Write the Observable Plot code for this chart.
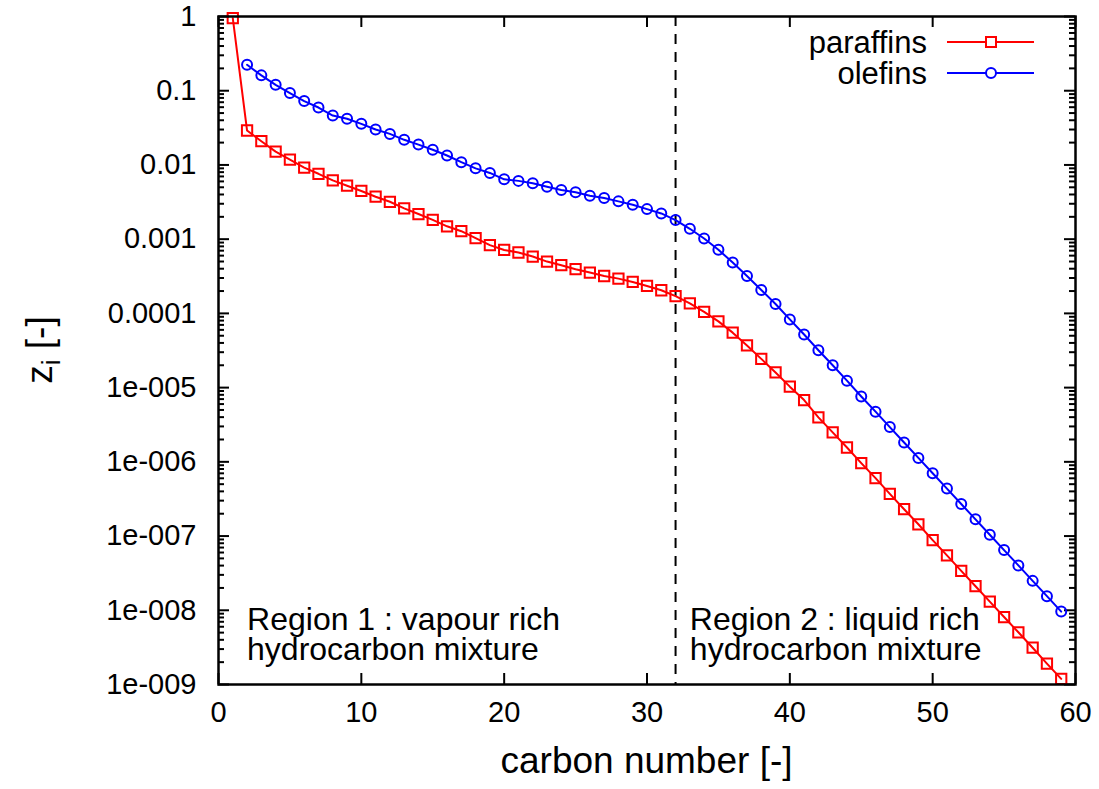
<!DOCTYPE html>
<html><head><meta charset="utf-8">
<script src="https://cdn.jsdelivr.net/npm/d3@7"></script>
<script src="https://cdn.jsdelivr.net/npm/@observablehq/plot@0.6"></script>
<style>
body{margin:0;background:#fff;}
#chart{position:relative;width:1099px;height:789px;}
</style>
</head><body><div id="chart"></div>
<script>
// ---- data ----
const carbonParaffins = [1,2,3,4,5,6,7,8,9,10,11,12,13,14,15,16,17,18,19,20,21,22,23,24,25,26,27,28,29,30,31,32,33,34,35,36,37,38,39,40,41,42,43,44,45,46,47,48,49,50,51,52,53,54,55,56,57,58,59];
const paraffins = [0.95,2.91e-2,2.09e-2,1.51e-2,1.18e-2,9.2e-3,7.6e-3,6.2e-3,5.25e-3,4.46e-3,3.73e-3,3.19e-3,2.60e-3,2.18e-3,1.82e-3,1.49e-3,1.28e-3,1.03e-3,8.3e-4,7.16e-4,6.61e-4,5.83e-4,4.99e-4,4.46e-4,3.94e-4,3.55e-4,3.19e-4,2.94e-4,2.65e-4,2.34e-4,2.05e-4,1.71e-4,1.36e-4,1.05e-4,7.8e-5,5.5e-5,3.7e-5,2.44e-5,1.6e-5,1.03e-5,6.8e-6,3.97e-6,2.49e-6,1.56e-6,9.6e-7,6.03e-7,3.70e-7,2.30e-7,1.44e-7,8.83e-8,5.48e-8,3.40e-8,2.11e-8,1.31e-8,8.11e-9,5.05e-9,3.13e-9,1.91e-9,1.19e-9];
const carbonOlefins = [2,3,4,5,6,7,8,9,10,11,12,13,14,15,16,17,18,19,20,21,22,23,24,25,26,27,28,29,30,31,32,33,34,35,36,37,38,39,40,41,42,43,44,45,46,47,48,49,50,51,52,53,54,55,56,57,58,59];
const olefins = [0.224,0.161,0.120,9.31e-2,7.26e-2,5.94e-2,4.63e-2,4.19e-2,3.58e-2,3.00e-2,2.62e-2,2.18e-2,1.88e-2,1.60e-2,1.34e-2,1.09e-2,9.0e-3,7.8e-3,6.4e-3,6.1e-3,5.65e-3,5.09e-3,4.59e-3,4.28e-3,3.85e-3,3.58e-3,3.23e-3,2.91e-3,2.54e-3,2.22e-3,1.81e-3,1.38e-3,1.02e-3,7.2e-4,4.84e-4,3.19e-4,2.07e-4,1.34e-4,8.3e-5,5.2e-5,3.19e-5,2.00e-5,1.24e-5,7.6e-6,4.74e-6,2.94e-6,1.82e-6,1.13e-6,7.03e-7,4.36e-7,2.70e-7,1.68e-7,1.04e-7,6.47e-8,4.02e-8,2.49e-8,1.55e-8,9.6e-9];
const xTicks = [0,10,20,30,40,50,60];
const yTicks = [1,0.1,0.01,0.001,0.0001,1e-5,1e-6,1e-7,1e-8,1e-9];
const yTickLabels = ["1","0.1","0.01","0.001","0.0001","1e-005","1e-006","1e-007","1e-008","1e-009"];
const regionBoundary = [32];
const regionX = [2, 33];
const regionText = ["Region 1 : vapour rich\nhydrocarbon mixture", "Region 2 : liquid rich\nhydrocarbon mixture"];
const seriesNames = ["paraffins", "olefins"];
const seriesColors = ["#ff0000", "#0000ff"];
const xLabel = "carbon number [-]";

// ---- build tables ----
const parData = carbonParaffins.map((c, i) => ({c, v: paraffins[i]}));
const oleData = carbonOlefins.map((c, i) => ({c, v: olefins[i]}));
const regions = regionX.map((x, i) => ({x, t: regionText[i]}));
const minorTicks = yTicks.slice(1).flatMap(d => d3.range(2, 10).map(k => d * k));
const labelOf = new Map(yTicks.map((d, i) => [d, yTickLabels[i]]));

const W = 1099, H = 789, mL = 218, mR = 24, mT = 16, mB = 105;
const pw = W - mL - mR, ph = H - mT - mB;
const major = 11, minor = 6;
const font = "'Liberation Sans', Arial, Helvetica, sans-serif";

const plot = Plot.plot({
  width: W, height: H,
  marginLeft: mL, marginRight: mR, marginTop: mT, marginBottom: mB,
  style: {fontFamily: font, background: "#fff", color: "#000", overflow: "visible"},
  x: {domain: [0, 60], axis: null},
  y: {type: "log", domain: [1e-9, 1], axis: null},
  marks: [
    // minor & major ticks, mirrored inward
    Plot.tickY(minorTicks, {y: d => d, insetRight: pw - minor, strokeWidth: 2}),
    Plot.tickY(minorTicks, {y: d => d, insetLeft: pw - minor, strokeWidth: 2}),
    Plot.tickY(yTicks, {y: d => d, insetRight: pw - major, strokeWidth: 2}),
    Plot.tickY(yTicks, {y: d => d, insetLeft: pw - major, strokeWidth: 2}),
    Plot.tickX(xTicks, {x: d => d, insetTop: ph - major, strokeWidth: 2}),
    Plot.tickX(xTicks, {x: d => d, insetBottom: ph - major, strokeWidth: 2}),
    Plot.axisX({ticks: xTicks, tickSize: 0, tickPadding: 17, fontSize: 29, label: null}),
    Plot.axisY({ticks: yTicks, tickSize: 0, tickPadding: 22, fontSize: 29, label: null, tickFormat: d => labelOf.get(d)}),
    Plot.ruleX(regionBoundary, {x: d => d, stroke: "#000", strokeWidth: 2, strokeDasharray: "10,8"}),
    Plot.text(regions, {x: "x", text: "t", frameAnchor: "bottom", textAnchor: "start", lineAnchor: "bottom", dy: -25, fontSize: 32, lineHeight: 0.92, fill: "#000"}),
    Plot.line(parData, {x: "c", y: "v", stroke: seriesColors[0], strokeWidth: 2}),
    Plot.dot(parData, {x: "c", y: "v", symbol: "square", r: 5.8, stroke: seriesColors[0], strokeWidth: 2, fill: "none"}),
    Plot.line(oleData, {x: "c", y: "v", stroke: seriesColors[1], strokeWidth: 2}),
    Plot.dot(oleData, {x: "c", y: "v", symbol: "circle", r: 5, stroke: seriesColors[1], strokeWidth: 2, fill: "none"}),
    Plot.frame({stroke: "#000", strokeWidth: 2.5})
  ]
});
document.getElementById("chart").appendChild(plot);

const svg = d3.select(plot);
// x axis label
svg.append("text").attr("x", mL + pw / 2).attr("y", 773).attr("text-anchor", "middle")
  .attr("font-family", font).attr("font-size", 37).attr("fill", "#000").text(xLabel);
// y axis label with subscript
const yl = svg.append("text").attr("transform", `translate(52,${mT + ph / 2}) rotate(-90)`)
  .attr("text-anchor", "middle").attr("font-family", font).attr("font-size", 37).attr("fill", "#000");
yl.append("tspan").text("z");
yl.append("tspan").attr("font-size", 26).attr("dy", 8).text("i");
yl.append("tspan").attr("dy", -8).text(" [-]");

// legend
const lg = svg.append("g");
seriesNames.forEach((name, i) => {
  const y = 42 + i * 31;
  lg.append("text").attr("x", 927).attr("y", y).attr("dy", "0.35em").attr("text-anchor", "end")
    .attr("font-family", font).attr("font-size", 31).attr("fill", "#000").text(name);
  lg.append("line").attr("x1", 947).attr("x2", 1034).attr("y1", y).attr("y2", y)
    .attr("stroke", seriesColors[i]).attr("stroke-width", 2);
  if (i === 0) {
    lg.append("rect").attr("x", 991 - 5).attr("y", y - 5).attr("width", 10).attr("height", 10)
      .attr("fill", "#fff").attr("stroke", seriesColors[i]).attr("stroke-width", 2);
  } else {
    lg.append("circle").attr("cx", 991).attr("cy", y).attr("r", 5)
      .attr("fill", "#fff").attr("stroke", seriesColors[i]).attr("stroke-width", 2);
  }
});
</script>
</body></html>
